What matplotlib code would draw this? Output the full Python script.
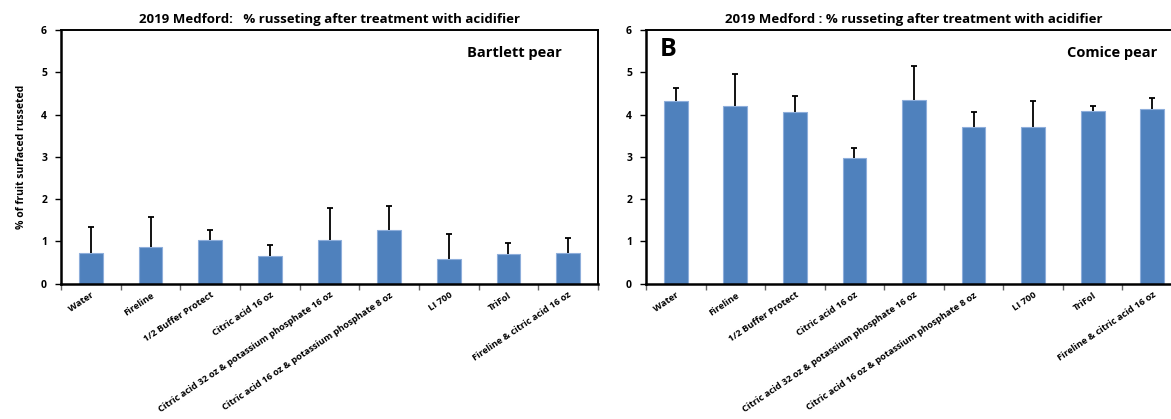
import matplotlib
matplotlib.use("Agg")
import matplotlib.pyplot as plt
import numpy as np

plt.rcParams['font.family'] = ['Open Sans', 'DejaVu Sans']

treatments = [
    "Water",
    "Fireline",
    "1/2 Buffer Protect",
    "Citric acid 16 oz",
    "Citric acid 32 oz & potassium phosphate 16 oz",
    "Citric acid 16 oz & potassium phosphate 8 oz",
    "LI 700",
    "TriFol",
    "Fireline & citric acid 16 oz",
]

bartlett_mean = [0.72, 0.87, 1.04, 0.66, 1.03, 1.27, 0.58, 0.70, 0.72]
bartlett_upper = [1.34, 1.57, 1.27, 0.91, 1.79, 1.83, 1.18, 0.96, 1.08]

comice_mean = [4.32, 4.21, 4.06, 2.96, 4.35, 3.70, 3.71, 4.09, 4.13]
comice_upper = [4.62, 4.96, 4.43, 3.21, 5.14, 4.05, 4.32, 4.20, 4.38]

bar_color = "#4F81BD"
edge_color = "#8EAEDB"

W, H = 1171, 419
fig = plt.figure(figsize=(W / 100, H / 100), dpi=100)


def panel(rect, means, uppers, title, variety, variety_x, ylabel=None,
          letter=None):
    ax = fig.add_axes(rect)
    x = np.arange(len(treatments))
    err = np.array(uppers) - np.array(means)
    ax.bar(x, means, width=0.4, color=bar_color, edgecolor=edge_color,
           linewidth=0.8, zorder=2)
    _, caps, _ = ax.errorbar(x, means, yerr=[np.zeros_like(err), err],
                             fmt="none", ecolor="black", elinewidth=1.3,
                             capsize=2.5, capthick=1.3, zorder=3)
    # one-sided bars: keep only the upper cap
    caps[0].set_visible(False)
    ax.set_xlim(-0.5, len(treatments) - 0.5)
    ax.set_ylim(0, 6)
    ax.set_yticks(range(0, 7))
    ax.set_yticklabels([str(v) for v in range(0, 7)], fontsize=7.5,
                       fontweight="bold")
    # category boundaries carry the ticks, labels sit at the bar centres
    ax.set_xticks(np.arange(-0.5, len(treatments), 1.0))
    ax.set_xticklabels([])
    ax.set_xticks(x, minor=True)
    ax.set_xticklabels(treatments, minor=True, rotation=34, ha="right",
                       va="top", rotation_mode="anchor", fontsize=6.7,
                       fontweight="bold")
    ax.tick_params(axis="x", which="minor", length=0, pad=5)
    ax.tick_params(axis="x", which="major", length=4, width=1, color="#666666",
                   direction="out")
    ax.tick_params(axis="y", length=4, width=1, direction="out", pad=6)
    for s in ("left", "bottom"):
        ax.spines[s].set_linewidth(1.8)
    for s in ("top", "right"):
        ax.spines[s].set_linewidth(1.4)
    ax.set_title(title, fontsize=9.5, fontweight="bold", pad=5)
    ax.text(variety_x, 0.91, variety, transform=ax.transAxes, ha="right",
            va="center", fontsize=10.5, fontweight="bold")
    if ylabel:
        ax.set_ylabel(ylabel, fontsize=7.5, fontweight="bold", labelpad=10)
    if letter:
        ax.text(0.026, 0.925, letter, transform=ax.transAxes, ha="left",
                va="center", fontsize=18, fontweight="bold")
    return ax


bottom = 1 - 283.5 / H
height = (283.5 - 30) / H

panel([61 / W, bottom, 537 / W, height], bartlett_mean, bartlett_upper,
      "2019 Medford:   % russeting after treatment with acidifier",
      "Bartlett pear", 0.932, ylabel="% of fruit surfaced russeted")
panel([646 / W, bottom, 536 / W, height], comice_mean, comice_upper,
      "2019 Medford : % russeting after treatment with acidifier",
      "Comice pear", 0.953, letter="B")

fig.savefig("out.png", dpi=100)
